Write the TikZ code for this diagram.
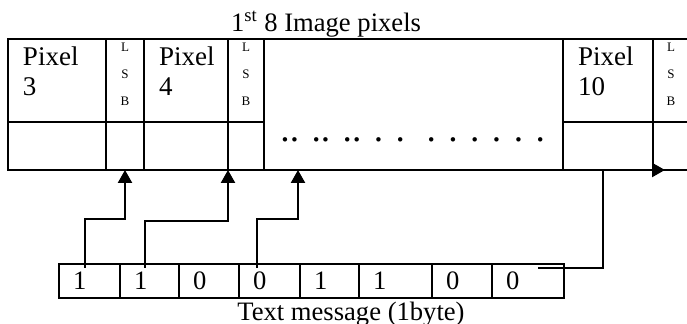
\documentclass[tikz,border=0pt]{standalone}
\usepackage{fontspec}
\setmainfont{Liberation Serif}
\usetikzlibrary{positioning, calc, arrows.meta}
\tikzset{
  cell/.style={
    rectangle,
    draw=black,
    line width=0.9pt,
    inner sep=0pt,
    outer sep=0pt
  },
  topcell/.style={
    cell,
    minimum width=#1,
    minimum height=41.5pt
  },
  lowcell/.style={
    cell,
    minimum width=#1,
    minimum height=24pt
  },
  pixtext/.style={
    align=left,
    inner sep=0pt,
    font=\fontsize{13.5}{15}\selectfont
  },
  lsbtext/.style={
    align=center,
    inner sep=0pt,
    font=\fontsize{6.5}{13.5}\selectfont
  },
  bitcell/.style={
    cell,
    line width=0.85pt,
    minimum height=17pt,
    inner xsep=7pt,
    text width=#1,
    align=left,
    font=\fontsize{13.3}{15}\selectfont
  },
  caption/.style={
    inner sep=0pt,
    font=\fontsize{13.3}{15}\selectfont
  },
  bitarrow/.style={
    line width=1.2pt,
    -{Triangle[length=6.5pt, width=7pt]}
  }
}

\begin{document}
\begin{tikzpicture}[x=0.5pt, y=-0.5pt]
  \useasboundingbox (0,0) rectangle (687,324);
  \clip (0,0) rectangle (687,324);

  % --- IMAGE PIXELS: top row ---
  \node (p3) [topcell=49pt, anchor=north west] at (8,39) {};
  \node (l3) [topcell=19pt, right=0pt of p3] {};
  \node (p4) [topcell=42pt, right=0pt of l3] {};
  \node (l4) [topcell=18pt, right=0pt of p4] {};
  \node (mid) [cell, minimum width=149.5pt, minimum height=65.5pt, anchor=north west] at (l4.north east) {};
  \node (p10) [topcell=45pt, anchor=north west] at (mid.north east) {};
  \node (l10) [topcell=18pt, right=0pt of p10] {};

  % --- IMAGE PIXELS: bottom row ---
  \node (p3b) [lowcell=49pt, below=0pt of p3] {};
  \node (l3b) [lowcell=19pt, below=0pt of l3] {};
  \node (p4b) [lowcell=42pt, below=0pt of p4] {};
  \node (l4b) [lowcell=18pt, below=0pt of l4] {};
  \node (p10b) [lowcell=45pt, below=0pt of p10] {};
  \node (l10b) [lowcell=18pt, below=0pt of l10] {};

  % cell texts
  \node (p3_txt) [pixtext, below right=3.5pt and 7.3pt of p3.north west] {Pixel\\3};
  \node (p4_txt) [pixtext, below right=3.5pt and 7.3pt of p4.north west] {Pixel\\4};
  \node (p10_txt) [pixtext, below right=3.5pt and 7.3pt of p10.north west] {Pixel\\10};
  \node (l3_txt) [lsbtext, below=2pt of l3.north] {L\\S\\B};
  \node (l4_txt) [lsbtext, below=2pt of l4.north] {L\\S\\B};
  \node (l10_txt) [lsbtext, below=2pt of l10.north] {L\\S\\B};
  \node (dots) [inner sep=0pt, font=\fontsize{18.7}{20}\selectfont, anchor=base west] at (280,142) {.. .. .. . .\hspace{4.5pt} . . . . . .};

  \node (title) [caption, anchor=base] at (326,32) {1\textsuperscript{st} 8 Image pixels};

  % --- TEXT MESSAGE BYTE ---
  \node (bit1) [bitcell=16.5pt, anchor=west] at (59,281) {1};
  \node (bit2) [bitcell=15.5pt, right=0pt of bit1] {1};
  \node (bit3) [bitcell=16pt, right=0pt of bit2] {0};
  \node (bit4) [bitcell=16.5pt, right=0pt of bit3] {0};
  \node (bit5) [bitcell=15.5pt, right=0pt of bit4] {1};
  \node (bit6) [bitcell=22.5pt, right=0pt of bit5] {1};
  \node (bit7) [bitcell=16pt, right=0pt of bit6] {0};
  \node (bit8) [bitcell=22pt, right=0pt of bit7] {0};

  \node (msg) [caption, anchor=base] at (351,321) {Text message (1byte)};

  % bits into the LSBs
  \coordinate (in1) at (l3b.south);
  \coordinate (in2) at (l4b.south west);
  \coordinate (in3) at ($(mid.south west)+(34,0)$);
  \coordinate (in4) at ($(l10b.south west)+(12,0)$);

  \draw[bitarrow] ($(bit1.north west)+(26,4)$) -- ++(0,-49) -| (in1);
  \draw[bitarrow] ($(bit2.north west)+(25,4)$) -- ++(0,-47) -| (in2);
  \draw[bitarrow] ($(bit4.north west)+(18,4)$) -- ++(0,-49) -| (in3);
  \draw[bitarrow] ($(bit8.north west)+(46,4)$) -- ++(65,0) |- (in4);

\end{tikzpicture}
\end{document}
